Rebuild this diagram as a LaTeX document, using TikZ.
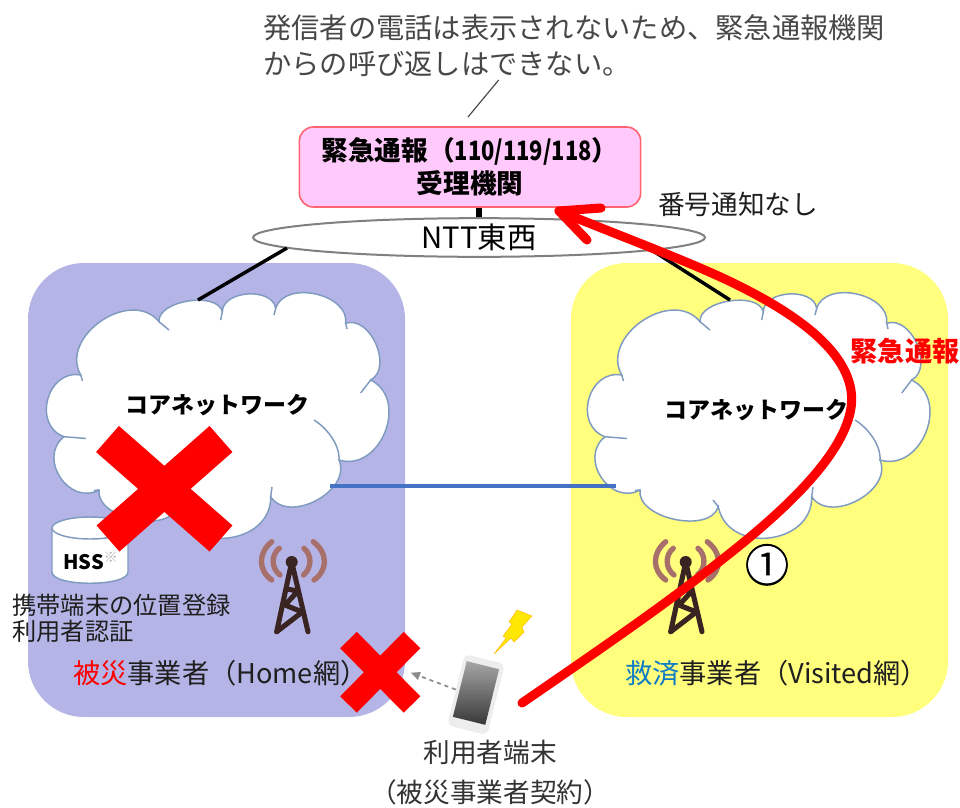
\documentclass[tikz,border=0pt]{standalone}
\usepackage{fontspec}
\setmainfont{Noto Sans CJK JP}
\usetikzlibrary{shapes.geometric,arrows.meta}
\definecolor{panelL}{HTML}{B4B4E6}
\definecolor{panelR}{HTML}{FFFF7D}
\definecolor{cloudline}{HTML}{7F9BC0}
\definecolor{pinkfill}{HTML}{FFC9FB}
\definecolor{pinkline}{HTML}{FF6470}
\definecolor{towerarc}{HTML}{A8706A}
\definecolor{towerdark}{HTML}{3A2422}
\definecolor{netblue}{HTML}{4472C4}
\definecolor{helpblue}{HTML}{0F7CC4}
\tikzset{
  panel/.style={rounded corners=42pt,draw=none},
  cloudfill/.style={fill=white,draw=cloudline,line width=1.1pt},
  cloudhook/.style={draw=cloudline,line width=1.1pt},
  cross/.style={draw=red,line width=26pt},
  smallcross/.style={draw=red,line width=17.5pt},
  uplink/.style={draw=black,line width=2.6pt},
  lbl/.style={font=\fontsize{20pt}{25pt}\selectfont,inner sep=0pt,text=black!88},
  corelbl/.style={font=\fontsize{17.2pt}{20pt}\selectfont\bfseries,inner sep=0pt,text=black},
  arcA/.style={draw=towerarc,line width=4pt,line cap=round},
  legB/.style={draw=towerdark,line width=3.8pt,line cap=round,line join=round},
  redarrow/.style={draw=red,line width=6.8pt,line cap=round,line join=round}
}
\newcommand{\mycloud}{%
  \path[cloudfill] (621.7,375)
    to[bend left=85,looseness=1.2] (700,321.7)
    to[bend left=85,looseness=.85] (763.3,311.7)
    to[bend left=85,looseness=1.03] (816.7,308.3)
    to[bend left=85,looseness=1.07] (886.7,323.3)
    to[bend left=85,looseness=1.07] (911.7,380)
    to[bend left=85,looseness=1.29] (880,460)
    to[bend left=85,looseness=1.1] (811.7,496.7)
    to[bend left=85,looseness=1.33] (718.3,506.7)
    to[bend left=85,looseness=.92] (640,490)
    to[bend left=85,looseness=1.37] (605,436.7)
    to[bend left=85,looseness=1.37] cycle;
  \path[cloudhook] (700,321.7) -- (710,330);
  \path[cloudhook] (763.3,311.7) -- (761.7,320);
  \path[cloudhook] (816.7,308.3) -- (815,315);
  \path[cloudhook] (886.7,323.3) -- (888,329);
  \path[cloudhook] (911.7,380) -- (901.7,393);
  \path[cloudhook] (880,460) .. controls (881,445) and (868,428) .. (855,420);
  \path[cloudhook] (811.7,496.7) -- (813,487);
  \path[cloudhook] (718.3,506.7) -- (713,500);
  \path[cloudhook] (640,490) -- (635,490.5);
  \path[cloudhook] (605,436.7) -- (627,438.5);
  \path[cloudhook] (621.7,375) -- (623.5,381);
}
\newcommand{\mytower}{%
  \path[arcA] (279.3,548.3) .. controls (271,555) and (271,568) .. (280,575);
  \path[arcA] (304,548.3) .. controls (312,555) and (312,568) .. (303.5,575);
  \path[arcA] (271.7,541.7) .. controls (258,553) and (258,570) .. (271.7,580);
  \path[arcA] (313.3,541.7) .. controls (328,553) and (328,570) .. (314,580);
  \path[legB] (276.7,631.7) -- (291.7,562) -- (308,631.7);
  \path[legB] (287,589) -- (298,591) -- (285,605) -- (302.3,612) -- (276.7,631.7);
  \fill[towerdark] (291.7,562) circle[radius=4.5pt];
}
\begin{document}
\begin{tikzpicture}[x=0.75pt,y=-0.75pt]
\useasboundingbox (0,0) rectangle (960,807);
% panels
\path[panel,fill=panelL] (28,263) rectangle (405,717);
\path[panel,fill=panelR] (571,263) rectangle (948,717);
% clouds
\begin{scope}[shift={(-541,0)}]\mycloud\end{scope}
\mycloud
\coordinate (cloudLtop) at (198,300);
\coordinate (cloudRtop) at (730,300);
\coordinate (cloudLright) at (330,485.5);
\coordinate (cloudRleft) at (616,485.5);
% agency and NTT
\node[draw=pinkline,fill=pinkfill,line width=1.2pt,rounded corners=10.5pt,minimum width=256pt,minimum height=60pt,inner sep=0pt,align=center,font=\fontsize{20pt}{24.8pt}\selectfont\bfseries] (agency) at (470,167) {緊急通報（\scalebox{.82}[1]{110/119/118}）\\受理機関};
\node[ellipse,draw=black!50,fill=white,line width=1.5pt,minimum width=339pt,minimum height=29pt,inner sep=0pt,font=\fontsize{22pt}{26pt}\selectfont] (ntt) at (479,237.5) {NTT東西\hspace{13.5pt}};
\coordinate (nttL) at (287,248);
\coordinate (nttR) at (650,249);
\draw[draw=black,line width=4.4pt] (ntt.north) -- (ntt.north |- agency.south);
\draw[uplink] (nttL) -- (cloudLtop);
\draw[uplink] (nttR) -- (cloudRtop);
\draw[draw=netblue,line width=3pt] (cloudLright) -- (cloudRleft);
% note
\node[anchor=west,align=left,inner sep=0pt,text=black!72,font=\fontsize{21.2pt}{27pt}\selectfont] (note) at (263,46) {発信者の電話は表示されないため、緊急通報機関\\からの呼び返しはできない。};
\coordinate (leadA) at (498.7,80);
\coordinate (leadB) at (468,117);
\draw[draw=black!70,line width=.9pt] (leadA) -- (leadB);
% labels
\node[lbl] (nonum) at (738,204) {番号通知なし};
\node[inner sep=0pt,text=red,font=\fontsize{20.4pt}{25pt}\selectfont\bfseries] (emerg) at (905,351) {緊急通報};
\node[corelbl] (coreL) at (217.5,405) {コアネットワーク};
\node[corelbl] (coreR) at (756.5,410) {コアネットワーク};
% HSS
\path[fill=white,draw=cloudline,line width=1.1pt] (52,528) -- (52,572) .. controls (52,587) and (128,587) .. (128,572) -- (128,528);
\path[fill=white,draw=cloudline,line width=1.1pt] (90,528) ellipse[x radius=38,y radius=11];
\node[inner sep=0pt,font=\fontsize{15pt}{16pt}\selectfont\bfseries,text=black] (hss) at (91,561) {HSS\textsuperscript{\textcolor{black!30}{※}}};
\node[lbl,anchor=west,align=left,font=\fontsize{18.2pt}{19.5pt}\selectfont] (hssnote) at (12,618) {携帯端末の位置登録\\利用者認証};
% towers
\mytower
\begin{scope}[shift={(394,0)}]\mytower\end{scope}
% network names
\node[lbl,anchor=west,font=\fontsize{20.4pt}{25pt}\selectfont] (homeL) at (73,673) {\textcolor{red}{被災}事業者（Home網）};
\node[lbl,anchor=west,font=\fontsize{20.4pt}{25pt}\selectfont] (visitL) at (625,673) {\textcolor{helpblue}{救済}事業者（Visited網）};
% crosses
\draw[cross] (107.5,439) -- (221,538.5);
\draw[cross] (221,439) -- (108,538.5);
% phone
\node[rotate=-14,fill=black!7,rounded corners=4pt,minimum width=31pt,minimum height=55pt,inner sep=0pt] (phone) at (476,694.6) {};
\node[rotate=-14,top color=black!35,bottom color=black!78,minimum width=25pt,minimum height=43pt,inner sep=0pt] (screen) at (476,693) {};
\coordinate (homeedge) at (410.7,672.7);
\draw[draw=black!45,line width=1.3pt,dashed,-{Triangle[length=7pt,width=6pt]}] (phone.west) -- (homeedge);
\draw[smallcross] (348.5,640) -- (412,704.5);
\draw[smallcross] (412,640) -- (348.5,704.5);
\path[fill=yellow!90!orange,draw=orange!60!yellow,line width=.3pt] (494,654) -- (506,638) -- (503,636) -- (512,624) -- (509,622) -- (517,610) -- (532,616) -- (522,627) -- (524,632) -- (514,642) -- (511,638) -- cycle;
% terminal text
\node[lbl,anchor=center,align=center,text=black!80,font=\fontsize{20pt}{30pt}\selectfont] (term) at (490,773) {利用者端末\\（被災事業者契約）};
% circled one
\node[circle,fill=white,draw=black,line width=1.2pt,inner sep=0pt,minimum size=30pt,font=\fontsize{33pt}{35pt}\selectfont] (one) at (767,565) {\smash{\makebox[0pt]{\raisebox{-.38em}{①}}}};
% red arrow
\coordinate (tip) at (559,211);
\coordinate (barbA) at (601,208);
\coordinate (barbB) at (587,240);
\draw[redarrow] (522,703) .. controls (580,663) and (640,622) .. (686.7,586.7) .. controls (740,546) and (850,465) .. (851.7,400) .. controls (852,350) and (790,310) .. (727,280) .. controls (680,258) and (610,232) .. (tip);
\draw[redarrow] (barbA) -- (tip) -- (barbB);
\end{tikzpicture}
\end{document}
